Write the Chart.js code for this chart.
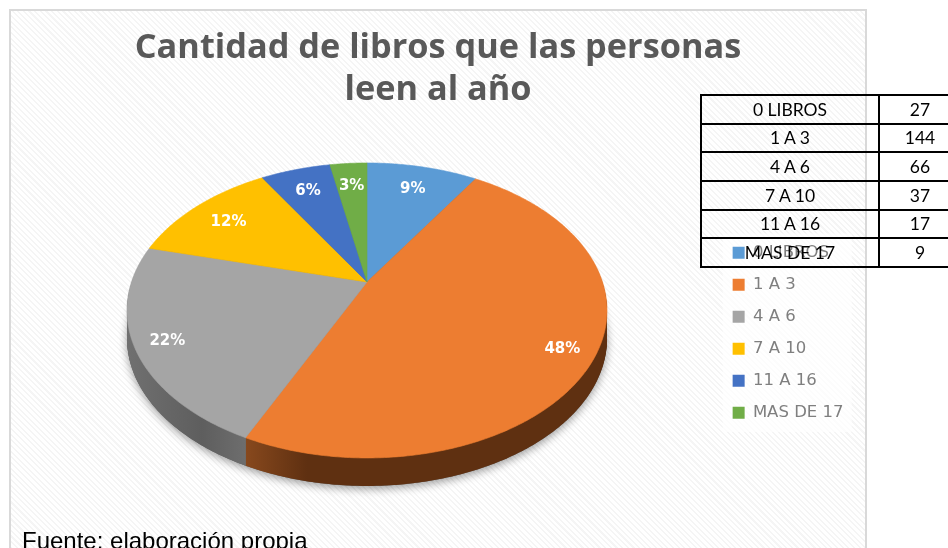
<!DOCTYPE html>
<html lang="es">
<head>
<meta charset="utf-8">
<script src="https://cdn.jsdelivr.net/npm/chart.js@4/dist/chart.umd.min.js"></script>
<style>
html,body{margin:0;padding:0;width:948px;height:548px;overflow:hidden;background:#fff}
#panel{position:absolute;left:9px;top:9px;width:854px;height:560px;border:2px solid #d9d9d9;
background:repeating-linear-gradient(45deg,#f5f5f5 0,#f5f5f5 1.5px,#fff 1.5px,#fff 4px)}
#wrap{position:absolute;left:11px;top:11px;width:854px;height:537px}
#tbl{position:absolute;left:700px;top:94px;border-collapse:collapse;table-layout:fixed;width:260px;
font:17.5px/1 Lato,"Open Sans",sans-serif;color:#000}
#tbl td{border:2px solid #000;height:26.7px;padding:0;text-align:center;overflow:visible;white-space:nowrap}
#tbl col.a{width:178px}#tbl col.b{width:82px}
#src{position:absolute;left:22px;top:527px;font:24px "Liberation Sans",Arial,sans-serif;color:#000;white-space:nowrap}
</style>
</head>
<body>
<div id="panel"></div>
<div id="wrap"><canvas id="c" width="854" height="537"></canvas></div>
<table id="tbl"><colgroup><col class="a"><col class="b"></colgroup><tbody id="tb"></tbody></table>
<div id="src">Fuente: elaboración propia</div>
<script>
const categories = ['0 LIBROS','1 A 3','4 A 6','7 A 10','11 A 16','MAS DE 17'];
const values = [27,144,66,37,17,9];
const colors = ['#5b9bd5','#ed7d31','#a5a5a5','#ffc000','#4472c4','#70ad47'];
const rimDark = ['#2f5575','#5f3011','#5e5e5e','#7a5c00','#24406f','#3f6327'];
const rimLight = ['#3f6f98','#8a4a1e','#707070','#997400','#2f5597','#548235'];
const titleLines = ['Cantidad de libros que las personas','leen al año'];

// Perspective view of the disc (canvas px)
const view = {cx:356, cy:271, sx:235.5, sy:142, q:0.193, depth:28};
function project(u,v){
  const w = 1 - view.q*v;
  return [view.cx + view.sx*u/w, view.cy + view.sy*v/w];
}
function sectorPath(ctx,a0,a1,dy){
  ctx.beginPath();
  const c = project(0,0);
  ctx.moveTo(c[0],c[1]+dy);
  const n = Math.max(2,Math.ceil((a1-a0)/0.01));
  for(let i=0;i<=n;i++){
    const a = a0+(a1-a0)*i/n;
    const p = project(Math.cos(a),Math.sin(a));
    ctx.lineTo(p[0],p[1]+dy);
  }
  ctx.closePath();
}
const disc3d = {
  id:'disc3d',
  beforeDraw(chart){
    const ctx = chart.ctx, h = chart.legend.legendHitBoxes;
    if(!h||!h.length) return;
    const last = h[h.length-1];
    ctx.save();
    ctx.fillStyle='rgba(255,255,255,.72)';
    ctx.fillRect(h[0].left-10,h[0].top-11,129,last.top+last.height+11-(h[0].top-11));
    ctx.restore();
  },
  beforeDatasetDraw(chart){
    const ctx = chart.ctx, arcs = chart.getDatasetMeta(0).data;
    ctx.save();
    ctx.save();
    ctx.shadowColor='rgba(0,0,0,.38)';ctx.shadowBlur=9;ctx.shadowOffsetY=3;
    ctx.fillStyle='#5e5e5e';
    sectorPath(ctx,-Math.PI/2,Math.PI*1.5,view.depth);ctx.fill();
    ctx.restore();
    for(let d=view.depth;d>=1;d--){
      arcs.forEach((a,i)=>{
        if(i===2){
          const g2 = ctx.createLinearGradient(view.cx-240,0,view.cx-115,0);
          g2.addColorStop(0,rimLight[i]);g2.addColorStop(.6,rimDark[i]);g2.addColorStop(1,rimLight[i]);
          ctx.fillStyle=g2;
        }else{
          const g = ctx.createLinearGradient(view.cx-125,0,view.cx-60,0);
          g.addColorStop(0,rimLight[i]);g.addColorStop(1,rimDark[i]);
          ctx.fillStyle=g;
        }
        sectorPath(ctx,a.startAngle,a.endAngle,d);ctx.fill();
      });
    }
    arcs.forEach((a,i)=>{
      ctx.fillStyle=colors[i];ctx.strokeStyle=colors[i];ctx.lineWidth=.6;
      sectorPath(ctx,a.startAngle,a.endAngle,0);ctx.fill();ctx.stroke();
    });
    const total = values.reduce((s,v)=>s+v,0);
    ctx.fillStyle='#fff';ctx.font='bold 15px "DejaVu Sans",sans-serif';
    ctx.textAlign='center';ctx.textBaseline='middle';
    arcs.forEach((a,i)=>{
      const share = values[i]/total, m=(a.startAngle+a.endAngle)/2, f= share>.2?.87:.8;
      const p = project(f*Math.cos(m),f*Math.sin(m));
      ctx.fillText(Math.round(share*100)+'%',p[0],p[1]+2);
    });
    ctx.restore();
    return false;
  }
};
new Chart(document.getElementById('c'),{
  type:'pie',
  data:{labels:categories,datasets:[{data:values,backgroundColor:colors,borderWidth:0}]},
  plugins:[disc3d],
  options:{
    responsive:false,animation:false,
    layout:{padding:{left:11.5,right:11.5,bottom:14}},
    plugins:{
      tooltip:{enabled:false},
      title:{display:true,text:titleLines,color:'#595959',
        font:{family:'"Open Sans",sans-serif',size:34.3,weight:'bold',lineHeight:1.2},
        padding:{top:17,bottom:21}},
      legend:{position:'right',fullSize:false,
        labels:{boxWidth:12,boxHeight:12,padding:15.5,color:'#7f7f7f',
          font:{family:'"DejaVu Sans",sans-serif',size:16.5}}}
    }
  }
});
const tb=document.getElementById('tb');
categories.forEach((c,i)=>{
  const tr=document.createElement('tr');
  const a=document.createElement('td');a.textContent=c;
  const b=document.createElement('td');b.textContent=values[i];
  tr.append(a,b);tb.append(tr);
});
</script>
</body>
</html>
